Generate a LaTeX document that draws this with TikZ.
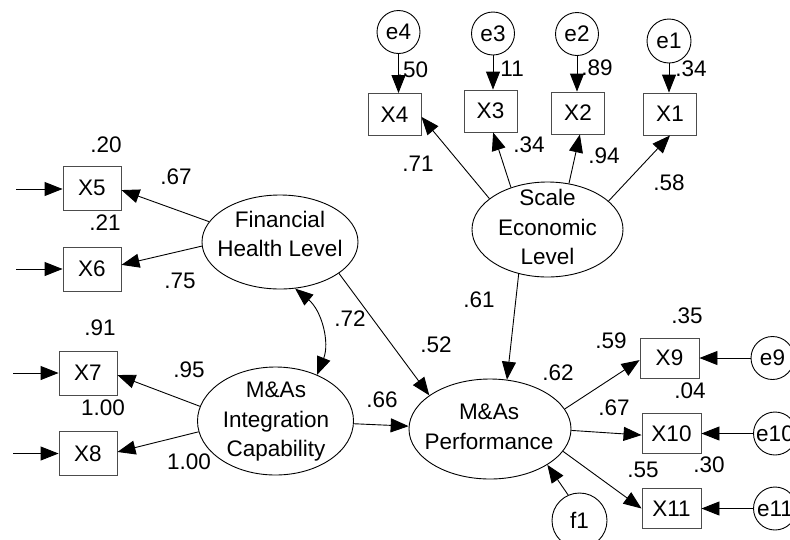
\documentclass[tikz,border=0pt]{standalone}
\usepackage{fontspec}
\setmainfont{Liberation Sans}
\usetikzlibrary{arrows.meta,shapes.geometric,calc}
\begin{document}
\begin{tikzpicture}[x=1pt,y=-1pt,
  every node/.style={font=\fontsize{22.5}{29.5}\selectfont, inner sep=0pt},
  obsT/.style={draw=black!70, line width=0.9pt, rectangle, minimum width=53pt, minimum height=42pt},
  obsL/.style={draw=black!70, line width=0.9pt, rectangle, minimum width=58pt, minimum height=44pt},
  obsR/.style={draw=black!70, line width=0.9pt, rectangle, minimum width=59pt, minimum height=40pt},
  lat/.style={draw, ellipse, line width=0.9pt},
  err/.style={draw, circle, line width=0.9pt, minimum size=43pt},
  lab/.style={},
  arr/.style={line width=0.9pt, -{Triangle[length=18pt,width=14pt]}},
  dbl/.style={line width=0.9pt, {Triangle[length=18pt,width=14pt]}-{Triangle[length=18pt,width=14pt]}}
]
\useasboundingbox (0,0) rectangle (790,539);

% observed variables
\node[obsT] (x4) at (394.5,114.5) {X4};
\node[obsT] (x3) at (490.5,111) {X3};
\node[obsT] (x2) at (578,113) {X2};
\node[obsT] (x1) at (670,114) {X1};
\node[obsL] (x5) at (92,188) {X5};
\node[obsL] (x6) at (92,269) {X6};
\node[obsL] (x7) at (88,373) {X7};
\node[obsL] (x8) at (88,453.5) {X8};
\node[obsR] (x9) at (669.5,358) {X9};
\node[obsR] (x10) at (671.5,433.5) {X10};
\node[obsR] (x11) at (671.5,508.5) {X11};

% error terms
\node[err] (e4) at (398.5,32) {e4};
\node[err] (e3) at (493,33.5) {e3};
\node[err] (e2) at (577,34) {e2};
\node[err, minimum size=44pt] (e1) at (669,41) {e1};
\node[err] (e9) at (772.5,358) {e9};
\node[err] (e10) at (775,433.5) {e10};
\node[err] (e11) at (775,508.5) {e11};
\node[err, minimum size=55pt] (f1) at (579.5,520.5) {f1};

% latent variables
\node[lat, minimum width=156pt, minimum height=94pt] (fhl) at (280,242) {};
\node[lat, minimum width=151pt, minimum height=95pt] (sel) at (547.5,229.5) {};
\node[lat, minimum width=156pt, minimum height=108pt] (maic) at (275.5,421) {};
\node[lat, minimum width=162pt, minimum height=100pt] (map) at (490,429) {};
\node[align=center] (fhlT) at (280,234) {Financial\\Health Level};
\node[align=center] (selT) at (547.5,227) {Scale\\Economic\\Level};
\node[align=center] (maicT) at (276,422) {M\&As\\Integration\\Capability};
\node[align=center] (mapT) at (489,427) {M\&As\\Performance};

% paths
\draw[arr] (sel.152.5) -- (x4.-5);
\draw[arr] (sel.131) -- (x3.-83);
\draw[arr] (sel.65.6) -- (x2.-85);
\draw[arr] (sel.25.6) -- (x1.south);
\draw[arr] (sel.-123) -- (map.71);
\draw[arr] (fhl.-28) -- (map.151);
\draw[arr] (maic.-2) -- (map.178.6);
\draw[arr] (fhl.164) -- (x5.-4);
\draw[arr] (fhl.-177) -- (x6.8);
\draw[arr] (maic.169) -- (x7.-4);
\draw[arr] (maic.-172) -- (x8.3);
\draw[arr] (map.15) -- (x9.-176);
\draw[arr] (map.-1) -- (x10.-177);
\draw[arr] (map.-17) -- (x11.west);
\draw[arr] (f1.114) -- (map.-32);
\draw[dbl] (fhl.-72) to[bend left=36] (maic.48);

% error arrows
\draw[arr] (e4.south) -- (e4.south |- x4.north);
\draw[arr] (e3.south) -- (e3.south |- x3.north);
\draw[arr] (e2.south) -- (e2.south |- x2.north);
\draw[arr] (e1.south) -- (e1.south |- x1.north);
\draw[arr] (e9.west) -- (e9.west -| x9.east);
\draw[arr] (e10.west) -- (e10.west -| x10.east);
\draw[arr] (e11.west) -- (e11.west -| x11.east);

% incoming arrows on the left
\coordinate (i5) at (16,189);
\coordinate (i6) at (16,269);
\coordinate (i7) at (13,373);
\coordinate (i8) at (13,453.5);
\draw[arr] (i5) -- (i5 -| x5.west);
\draw[arr] (i6) -- (i6 -| x6.west);
\draw[arr] (i7) -- (i7 -| x7.west);
\draw[arr] (i8) -- (i8 -| x8.west);

% labels
\node[lab] (l20) at (106,145) {.20};
\node[lab] (l67a) at (176,177) {.67};
\node[lab] (l21) at (105,223) {.21};
\node[lab] (l75) at (180,281) {.75};
\node[lab] (l91) at (100,328) {.91};
\node[lab] (l95) at (189,370) {.95};
\node[lab] (l100a) at (103,408) {1.00};
\node[lab] (l100b) at (189,462) {1.00};
\node[lab] (l72) at (350,319) {.72};
\node[lab] (l66) at (382,400) {.66};
\node[lab] (l52) at (436,345) {.52};
\node[lab] (l61) at (479,300) {.61};
\node[lab] (l62) at (558,373) {.62};
\node[lab] (l59) at (611,341) {.59};
\node[lab] (l35) at (687,316) {.35};
\node[lab] (l04) at (690,391) {.04};
\node[lab] (l67b) at (614,408) {.67};
\node[lab] (l55) at (643,470) {.55};
\node[lab] (l30) at (709,465) {.30};
\node[lab] (l50) at (412.5,70) {.50};
\node[lab] (l11) at (509,69) {.11};
\node[lab] (l89) at (597,68) {.89};
\node[lab] (l34a) at (691,69) {.34};
\node[lab] (l71) at (418,164) {.71};
\node[lab] (l34b) at (529,145) {.34};
\node[lab] (l94) at (604,156) {.94};
\node[lab] (l58) at (669,183) {.58};
\end{tikzpicture}
\end{document}
